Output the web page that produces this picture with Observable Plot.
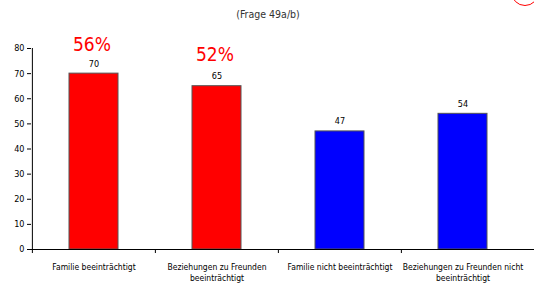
<!DOCTYPE html>
<html>
<head>
<meta charset="utf-8">
<script src="https://cdn.jsdelivr.net/npm/d3@7"></script>
<script src="https://cdn.jsdelivr.net/npm/@observablehq/plot@0.6"></script>
<style>
  body { margin: 0; background: #fff; font-family: "DejaVu Sans Condensed", "DejaVu Sans", sans-serif; position: relative; width: 534px; height: 284px; overflow: hidden; }
  #title { height: 28px; line-height: 28px; text-align: center; font-size: 10.5px; color: #333; padding-left: 2px; }
  #ring { position: absolute; left: 511px; top: -22px; width: 26px; height: 26px; border: 1.5px solid #ff0000; border-radius: 50%; }
</style>
</head>
<body>
<div id="title">(Frage 49a/b)</div>
<div id="ring"></div>
<div id="chart"></div>
<script>
const categories = [
  "Familie beeinträchtigt",
  "Beziehungen zu Freunden\nbeeinträchtigt",
  "Familie nicht beeinträchtigt",
  "Beziehungen zu Freunden nicht\nbeeinträchtigt"
];
const values = [70, 65, 47, 54];
const colors = ["#ff0000", "#ff0000", "#0000ff", "#0000ff"];
const annotations = ["56%", "52%", "", ""];
const annotationY = [81.5, 77.5, null, null];
const yTicks = [0, 10, 20, 30, 40, 50, 60, 70, 80];

const data = categories.map((c, i) => ({cat: c, value: values[i], color: colors[i], note: annotations[i], noteY: annotationY[i]}));
const notes = data.filter(d => d.note);

const width = 534, marginLeft = 31, marginRight = 10;
const step = (width - marginLeft - marginRight) / categories.length;
const font = "DejaVu Sans Condensed, DejaVu Sans, sans-serif";

const chart = Plot.plot({
  width,
  height: 256,
  marginTop: 20,
  marginBottom: 35,
  marginLeft,
  marginRight,
  style: {fontFamily: font, fontSize: "9px", color: "#000", background: "#fff", overflow: "visible"},
  x: {domain: categories, padding: 0, label: null},
  y: {domain: [0, 80], label: null},
  marks: [
    Plot.barY(data, {x: "cat", y: "value", fill: "color", stroke: "#555", strokeWidth: 1, insetLeft: 37, insetRight: 37}),
    Plot.text(data, {x: "cat", y: "value", text: d => String(d.value), dy: -10, fontSize: 9, fill: "#000"}),
    Plot.text(notes, {x: "cat", y: "noteY", text: "note", fontSize: 19, fill: "#ff0000", dx: -2}),
    Plot.axisY({ticks: yTicks, tickSize: 4, tickPadding: 3, fontSize: 9, stroke: "#000"}),
    Plot.ruleX([0], {x: () => categories[0], dx: -step / 2, stroke: "#000"}),
    Plot.ruleY([0], {stroke: "#000", insetRight: -10}),
    Plot.ruleX(categories, {x: d => d, dx: -step / 2, y1: 0, y2: -1.6, stroke: "#000"}),
    Plot.axisX({tickSize: 0, tickPadding: 12, fontSize: 8.5, lineHeight: 1.35, lineWidth: 40, textOverflow: null})
  ]
});
document.getElementById("chart").appendChild(chart);
</script>
</body>
</html>
